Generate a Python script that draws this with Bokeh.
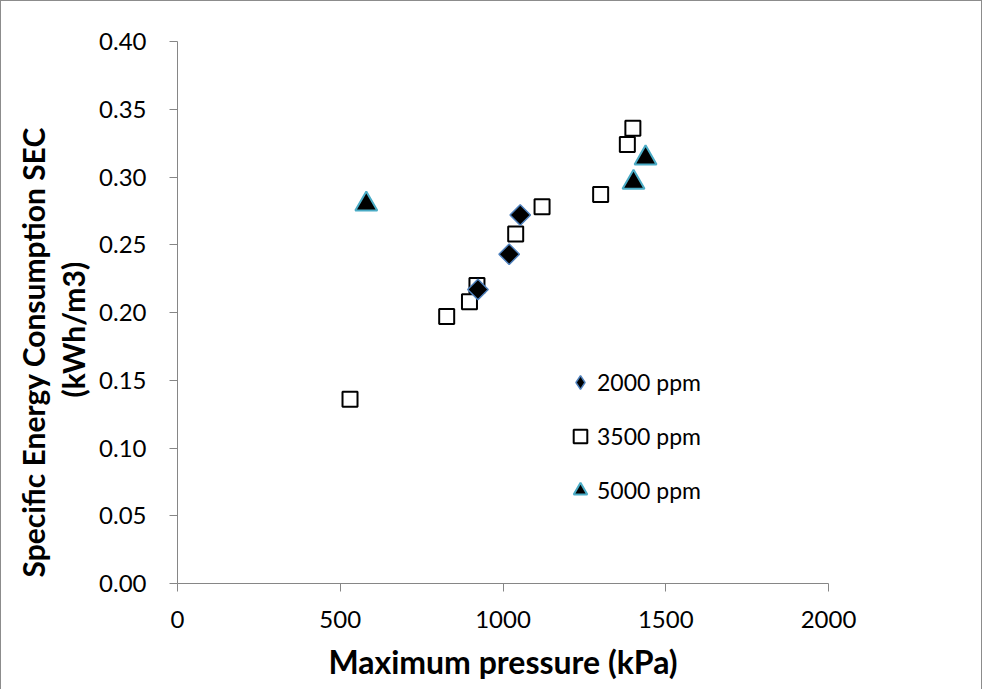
import numpy as np
from bokeh.plotting import figure
from bokeh.models import (Range1d, FixedTicker, PrintfTickFormatter, Legend, LegendItem, Title,
                          ColumnDataSource)
from bokeh.embed import file_html
from bokeh.resources import INLINE

# ---- data ----
x_2000 = [923, 1019, 1053]
y_2000 = [0.217, 0.243, 0.272]

x_3500 = [530, 827, 897, 920, 1039, 1120, 1300, 1382, 1399]
y_3500 = [0.136, 0.197, 0.208, 0.220, 0.258, 0.278, 0.287, 0.324, 0.336]

x_5000 = [580, 1401, 1438]
y_5000 = [0.280, 0.296, 0.314]

series_labels = ["2000 ppm", "3500 ppm", "5000 ppm"]
x_ticks = [0, 500, 1000, 1500, 2000]
y_ticks = [0.0, 0.05, 0.10, 0.15, 0.20, 0.25, 0.30, 0.35, 0.40]
x_title = "Maximum pressure (kPa)"
y_title_1 = "Specific Energy Consumption SEC"
y_title_2 = "(kWh/m3)"

FONT = "Lato"
AXIS_GRAY = "#868686"

p = figure(width=982, height=689, output_backend="svg", toolbar_location=None,
           x_range=Range1d(0, 2000), y_range=Range1d(0, 0.40),
           min_border_left=176, min_border_right=155, min_border_top=40, min_border_bottom=107)
p.styles = {"border-left": "1px solid #8c8c8c", "border-top": "1px solid #8c8c8c",
            "border-right": "1px solid #8c8c8c"}
p.outline_line_color = None
p.xgrid.visible = False
p.ygrid.visible = False
p.background_fill_color = "white"
p.border_fill_color = "white"

for ax in (p.xaxis[0], p.yaxis[0]):
    ax.axis_line_color = AXIS_GRAY
    ax.major_tick_line_color = AXIS_GRAY
    ax.major_tick_out = 8
    ax.major_tick_in = 0
    ax.minor_tick_line_color = None
    ax.major_label_text_font = FONT
    ax.major_label_text_font_size = "24px"
    ax.major_label_text_color = "black"

p.xaxis[0].ticker = FixedTicker(ticks=x_ticks)
p.yaxis[0].ticker = FixedTicker(ticks=y_ticks)
p.yaxis[0].formatter = PrintfTickFormatter(format="%.2f")
p.yaxis[0].major_label_standoff = 23
p.xaxis[0].major_label_standoff = 19

p.xaxis[0].axis_label = x_title
p.xaxis[0].axis_label_text_font = FONT
p.xaxis[0].axis_label_text_font_style = "bold"
p.xaxis[0].axis_label_text_font_size = "32px"
p.xaxis[0].axis_label_text_color = "black"
p.xaxis[0].axis_label_standoff = 11

# y-axis title as two vertical titles on the left (inner line first)
p.add_layout(Title(text=y_title_2, align="left", offset=186, standoff=12,
                   text_font=FONT, text_font_style="bold", text_font_size="30px",
                   text_color="black"), "left")
p.add_layout(Title(text=y_title_1, align="left", offset=6, standoff=-8,
                   text_font=FONT, text_font_style="bold", text_font_size="30px",
                   text_color="black"), "left")

src2 = ColumnDataSource(dict(x=x_2000, y=y_2000))
src3 = ColumnDataSource(dict(x=x_3500, y=y_3500))
src5 = ColumnDataSource(dict(x=x_5000, y=y_5000))

# legend-only range: places the legend diamond renderer's points outside the frame
p.extra_y_ranges = {"legend_only": Range1d(10, 11)}

r3 = p.scatter("x", "y", source=src3, marker="square", size=15, fill_color="white",
               line_color="black", line_width=2)
r2 = p.scatter("x", "y", source=src2, marker="square", angle=np.pi / 4, size=14.5,
               fill_color="black", line_color="#4f81bd", line_width=1.5)
r2_leg = p.scatter("x", "y", source=src2, y_range_name="legend_only",
                   marker="diamond", size=14, fill_color="black", line_color="#4f81bd",
                   line_width=1.5)
r5 = p.scatter("x", "y", source=src5, marker="triangle", size=22, fill_color="black",
               line_color="#4bacc6", line_width=2)

legend = Legend(items=[LegendItem(label=series_labels[0], renderers=[r2_leg]),
                       LegendItem(label=series_labels[1], renderers=[r3]),
                       LegendItem(label=series_labels[2], renderers=[r5])],
                location=(386, 76), glyph_width=34, glyph_height=34, spacing=20,
                padding=0, margin=0, label_standoff=0,
                label_text_font=FONT, label_text_font_size="23px",
                label_text_color="black", border_line_color=None,
                background_fill_alpha=0)
p.add_layout(legend)

open("out.html", "w").write(file_html(p, INLINE))
